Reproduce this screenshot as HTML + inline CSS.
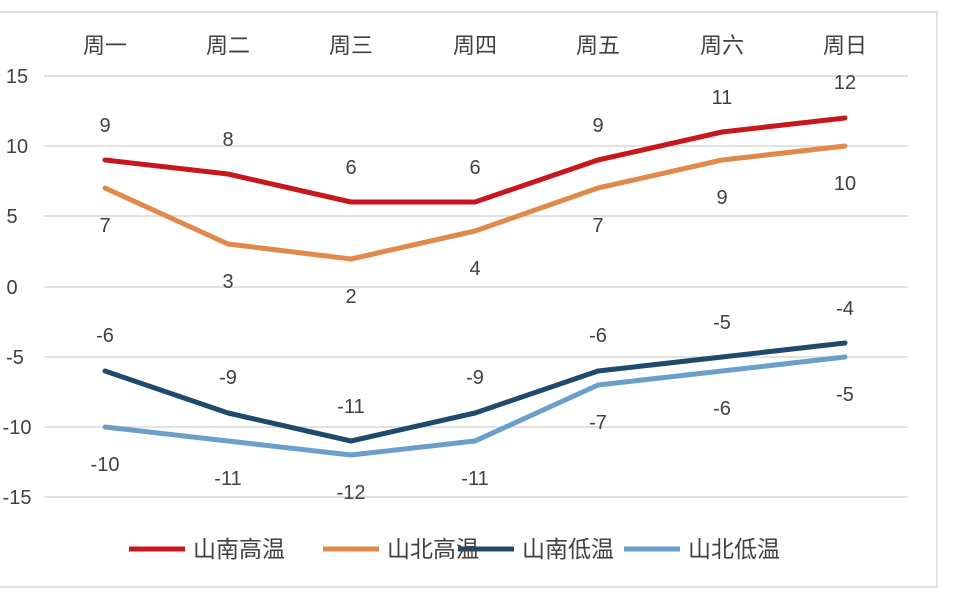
<!DOCTYPE html>
<html><head><meta charset="utf-8"><style>
html,body{margin:0;padding:0;background:#fff;}
svg{display:block;}
text{font-family:"Liberation Sans","Noto Sans CJK SC",sans-serif;fill:#404040;}
</style></head><body>
<svg width="973" height="599" viewBox="0 0 973 599" xmlns="http://www.w3.org/2000/svg">
<rect x="-5" y="12" width="942" height="575" fill="#fff" stroke="#d9d9d9" stroke-width="1.5"/>
<g stroke="#d9d9d9" stroke-width="1.5">
<line x1="44" x2="908" y1="76" y2="76"/><line x1="44" x2="908" y1="146" y2="146"/>
<line x1="44" x2="908" y1="216" y2="216"/><line x1="44" x2="908" y1="287" y2="287"/>
<line x1="44" x2="908" y1="357" y2="357"/><line x1="44" x2="908" y1="427" y2="427"/>
<line x1="44" x2="908" y1="497" y2="497"/>
</g>
<g font-size="20" text-anchor="middle">
<text x="17" y="83">15</text><text x="17" y="153">10</text><text x="12" y="223">5</text>
<text x="12" y="294">0</text><text x="15" y="364">-5</text><text x="17" y="434">-10</text><text x="17" y="504">-15</text>
</g>
<g font-size="22" text-anchor="middle">
<text x="105" y="53">周一</text><text x="228" y="53">周二</text><text x="351" y="53">周三</text>
<text x="475" y="53">周四</text><text x="598" y="53">周五</text><text x="722" y="53">周六</text><text x="845" y="53">周日</text>
</g>
<g fill="none" stroke-width="5" stroke-linejoin="round" stroke-linecap="round">
<polyline stroke="#c8161d" points="105,160 228,174 351,202 475,202 598,160 722,132 845,118"/>
<polyline stroke="#e0894a" points="105,188 228,244 351,259 475,231 598,188 722,160 845,146"/>
<polyline stroke="#1f4a6b" points="105,371 228,413 351,441 475,413 598,371 722,357 845,343"/>
<polyline stroke="#6a9fcb" points="105,427 228,441 351,455 475,441 598,385 722,371 845,357"/>
</g>
<g font-size="20" text-anchor="middle">
<text x="105" y="132">9</text><text x="228" y="146">8</text><text x="351" y="174">6</text><text x="475" y="174">6</text><text x="598" y="132">9</text><text x="722" y="104">11</text><text x="845" y="89">12</text>
<text x="105" y="232">7</text><text x="228" y="288">3</text><text x="351" y="303">2</text><text x="475" y="275">4</text><text x="598" y="232">7</text><text x="722" y="204">9</text><text x="845" y="190">10</text>
<text x="105" y="342">-6</text><text x="228" y="384">-9</text><text x="351" y="413">-11</text><text x="475" y="384">-9</text><text x="598" y="342">-6</text><text x="722" y="329">-5</text><text x="845" y="315">-4</text>
<text x="105" y="471">-10</text><text x="228" y="485">-11</text><text x="351" y="499">-12</text><text x="475" y="485">-11</text><text x="598" y="429">-7</text><text x="722" y="415">-6</text><text x="845" y="401">-5</text>
</g>
<g stroke-width="5">
<line x1="129" x2="185" y1="549" y2="549" stroke="#c8161d"/>
<line x1="323" x2="379" y1="549" y2="549" stroke="#e0894a"/>
<line x1="458" x2="514" y1="549" y2="549" stroke="#1f4a6b"/>
<line x1="624" x2="680" y1="549" y2="549" stroke="#6a9fcb"/>
</g>
<g font-size="23">
<text x="193" y="557">山南高温</text><text x="387" y="557">山北高温</text>
<text x="522" y="557">山南低温</text><text x="688" y="557">山北低温</text>
</g>
</svg>
</body></html>
